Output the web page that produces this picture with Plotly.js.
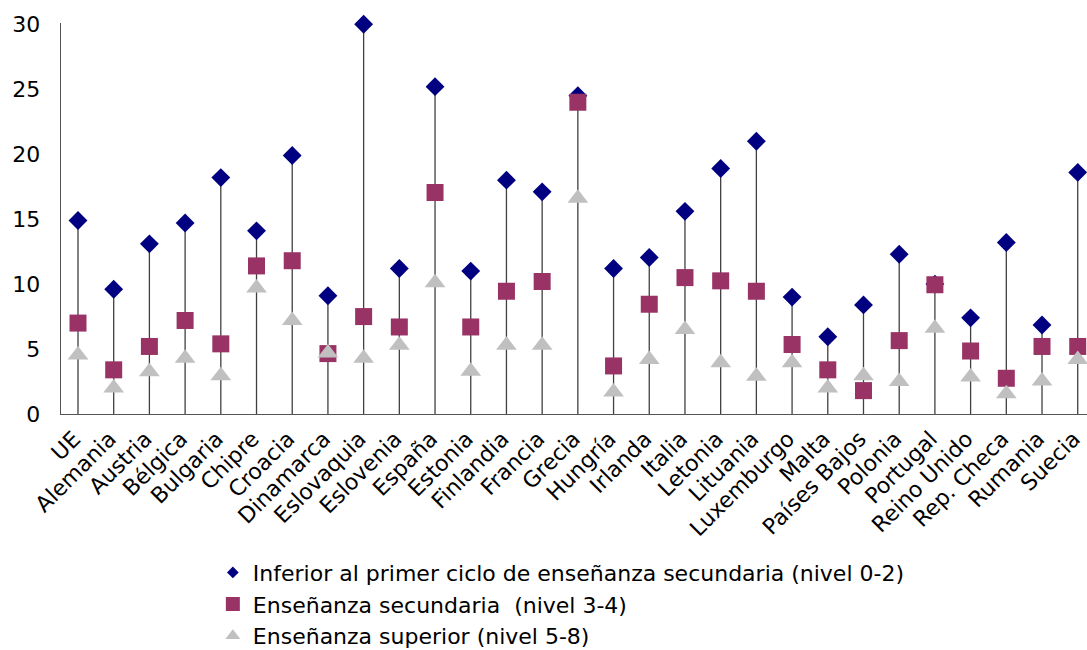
<!DOCTYPE html>
<html>
<head>
<meta charset="utf-8">
<script src="https://cdn.plot.ly/plotly-3.0.1.min.js"></script>
<style>
  html, body { margin: 0; padding: 0; background: #fff; }
  #chart { width: 1087px; height: 650px; }
</style>
</head>
<body>
<div id="chart"></div>
<script>
const categories = ["UE", "Alemania", "Austria", "Bélgica", "Bulgaria", "Chipre", "Croacia", "Dinamarca",
  "Eslovaquia", "Eslovenia", "España", "Estonia", "Finlandia", "Francia", "Grecia", "Hungría", "Irlanda",
  "Italia", "Letonia", "Lituania", "Luxemburgo", "Malta", "Países Bajos", "Polonia", "Portugal",
  "Reino Unido", "Rep. Checa", "Rumania", "Suecia"];

const nivel02 = [14.9, 9.6, 13.1, 14.7, 18.2, 14.1, 19.9, 9.1,
  30.0, 11.2, 25.2, 11.0, 18.0, 17.1, 24.5, 11.2, 12.05,
  15.6, 18.9, 21.0, 9.0, 5.95, 8.4, 12.3, 10.0,
  7.4, 13.2, 6.85, 18.6];

const nivel34 = [7.0, 3.4, 5.2, 7.2, 5.4, 11.4, 11.8, 4.65,
  7.5, 6.7, 17.05, 6.7, 9.45, 10.2, 24.0, 3.7, 8.45,
  10.5, 10.25, 9.45, 5.35, 3.4, 1.8, 5.65, 9.95,
  4.85, 2.75, 5.2, 5.2];

const nivel58 = [4.55, 2.0, 3.25, 4.3, 2.95, 9.7, 7.2, 4.7,
  4.3, 5.3, 10.1, 3.3, 5.3, 5.3, 16.6, 1.7, 4.2,
  6.5, 3.95, 2.9, 3.95, 2.0, 2.95, 2.5, 6.6,
  2.85, 1.55, 2.55, 4.2];

const seriesNames = [
  "Inferior al primer ciclo de enseñanza secundaria (nivel 0-2)",
  "Enseñanza secundaria  (nivel 3-4)",
  "Enseñanza superior (nivel 5-8)"
];

const FONT = "DejaVu Sans, Arial, sans-serif";
const xs = categories.map((c, i) => i);

const traces = [
  {
    type: "scatter", mode: "markers", x: xs, y: nivel02, name: seriesNames[0], showlegend: false,
    cliponaxis: false,
    marker: { symbol: "diamond", size: 14.5, color: "#000080" },
    error_y: { type: "data", symmetric: false, array: nivel02.map(() => 0), arrayminus: nivel02,
      color: "#404040", thickness: 1.3, width: 0 },
    hoverinfo: "y"
  },
  {
    type: "scatter", mode: "markers", x: xs, y: nivel34, name: seriesNames[1], showlegend: false,
    cliponaxis: false,
    marker: { symbol: "square", size: 17, color: "#993366" }, hoverinfo: "y"
  },
  {
    type: "scatter", mode: "markers", x: xs, y: nivel58, name: seriesNames[2], showlegend: false,
    cliponaxis: false,
    marker: { symbol: "triangle-up", size: 18, color: "#C0C0C0" }, hoverinfo: "y"
  },
  // legend entries
  { type: "scatter", mode: "markers", x: [null], y: [null], name: seriesNames[0],
    marker: { symbol: "diamond", size: 9, color: "#000080" } },
  { type: "scatter", mode: "markers", x: [null], y: [null], name: seriesNames[1],
    marker: { symbol: "square", size: 14, color: "#993366" } },
  { type: "scatter", mode: "markers", x: [null], y: [null], name: seriesNames[2],
    marker: { symbol: "triangle-up", size: 13, color: "#C0C0C0" } }
];

const layout = {
  width: 1087, height: 650,
  margin: { l: 61, r: 0, t: 23, b: 236, pad: 0, autoexpand: false },
  paper_bgcolor: "#ffffff", plot_bgcolor: "#ffffff",
  font: { family: FONT, size: 22, color: "#000000" },
  showlegend: true,
  legend: {
    x: 0.148, xanchor: "left", y: -0.352, yanchor: "top",
    orientation: "v", font: { family: FONT, size: 22, color: "#000000" },
    bgcolor: "rgba(0,0,0,0)", itemclick: false, itemdoubleclick: false,
    tracegroupgap: 0
  },
  xaxis: {
    range: [-0.476, 28.26], automargin: false,
    tickmode: "array", tickvals: xs, ticktext: categories,
    tickangle: -45, ticks: "", showgrid: false, zeroline: false,
    showline: true, linecolor: "#555555", linewidth: 1.3,
    tickfont: { family: FONT, size: 22, color: "#000000" },
    ticklabelstandoff: 2, ticklabelshift: -4, ticklabeloverflow: "allow"
  },
  yaxis: {
    range: [0, 30.1], automargin: false,
    tickmode: "array", tickvals: [0, 5, 10, 15, 20, 25, 30],
    ticks: "", showgrid: false, zeroline: false,
    showline: true, linecolor: "#555555", linewidth: 1.3,
    tickfont: { family: FONT, size: 22, color: "#000000" },
    ticklabelstandoff: 15
  }
};

Plotly.newPlot("chart", traces, layout, { displayModeBar: false, staticPlot: true });
</script>
</body>
</html>
